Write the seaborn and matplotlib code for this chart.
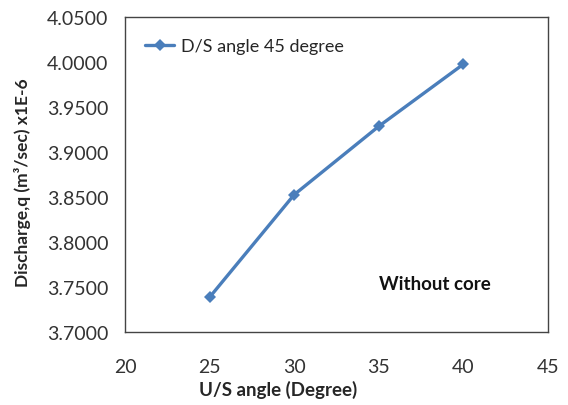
import matplotlib
matplotlib.use("Agg")
import matplotlib.pyplot as plt
import seaborn as sns
import pandas as pd

us_angle = [25, 30, 35, 40]
discharge = [3.7385, 3.8525, 3.9285, 3.9975]
series_name = "D/S angle 45 degree"
x_ticks = [20, 25, 30, 35, 40, 45]
y_ticks = [3.70, 3.75, 3.80, 3.85, 3.90, 3.95, 4.00, 4.05]

sns.set_theme(style="white")
plt.rcParams['font.family'] = ['Lato', 'DejaVu Sans']

df = pd.DataFrame({"x": us_angle, "y": discharge, "s": series_name})

fig = plt.figure(figsize=(5.68, 4.06), dpi=100)
ax = fig.add_axes([0.22, 0.18, 0.745, 0.776])
sns.lineplot(data=df, x="x", y="y", hue="s", palette=["#4A7EBB"], marker="D",
             markersize=6.5, markeredgewidth=0, linewidth=2.4, ax=ax)

ax.set_xlim(20, 45)
ax.set_ylim(3.70, 4.05)
ax.set_xticks(x_ticks)
ax.set_yticks(y_ticks)
ax.set_yticklabels([f"{v:.4f}" for v in y_ticks])
ax.tick_params(axis='both', length=0, labelsize=14, colors="#333333")
ax.tick_params(axis='y', pad=12)
ax.tick_params(axis='x', pad=19)
for s in ax.spines.values():
    s.set_color("#444444")
    s.set_linewidth(1.0)

ax.set_xlabel("U/S angle (Degree)", fontsize=13.5, fontweight="bold", va="center")
ax.set_ylabel("Discharge,q (m³/sec) x1E-6", fontsize=12.5, fontweight="bold", va="center")
ax.xaxis.set_label_coords(0.362, -0.181)
ax.yaxis.set_label_coords(-0.243, 0.476)

leg = ax.legend(loc="upper left", frameon=False, fontsize=13, handlelength=1.6,
                handletextpad=0.35, bbox_to_anchor=(0.01, 0.985), borderaxespad=0.5)
ax.text(38.3, 3.754, "Without core", fontsize=13.5, fontweight="bold",
        ha="center", va="center", color="#111111")

fig.savefig("out.png", dpi=100)
